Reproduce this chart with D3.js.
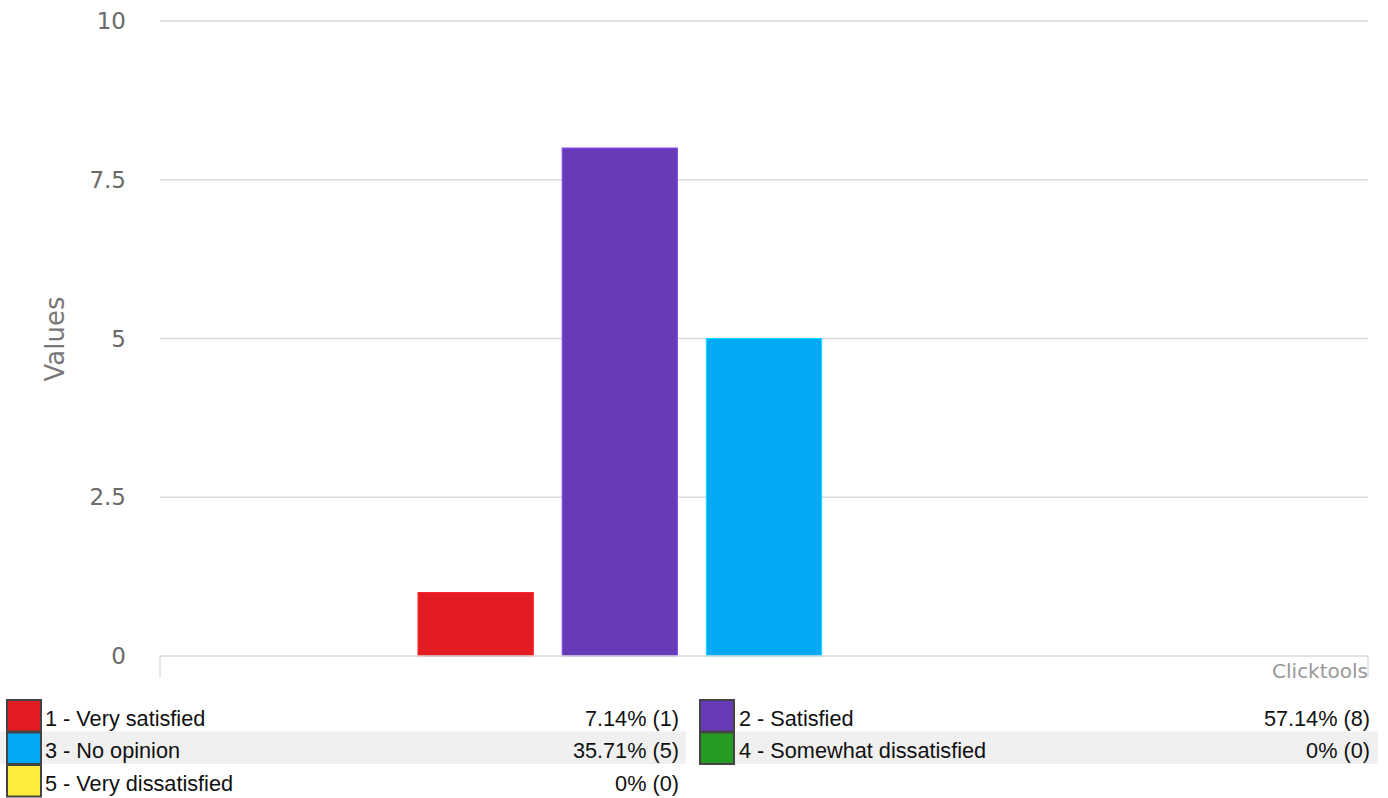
<!DOCTYPE html>
<html>
<head>
<meta charset="utf-8">
<script src="https://cdn.jsdelivr.net/npm/d3@7"></script>
<style>
  body { margin: 0; background: #ffffff; }
  svg { display: block; }
</style>
</head>
<body>
<script>
// chart data
var categories = ["1 - Very satisfied", "2 - Satisfied", "3 - No opinion", "4 - Somewhat dissatisfied", "5 - Very dissatisfied"];
var counts = [1, 8, 5, 0, 0];
var percents = ["7.14%", "57.14%", "35.71%", "0%", "0%"];
var colors = ["#e31c23", "#673ab7", "#03a9f4", "#259b24", "#ffeb3b"];
var yTicks = [0, 2.5, 5, 7.5, 10];

var w = 1388;
var h = 798;

var plot = { left: 160, right: 1368, top: 21, bottom: 656 };

window.onload = function() {

  var svg = d3.select("body")
              .append("svg")
              .attr("width", w)
              .attr("height", h);

  var yScale = d3.scaleLinear()
                 .domain([0, 10])
                 .range([plot.bottom, plot.top]);

  // one group holding the five series
  var xGroup = d3.scaleBand()
                 .domain(["all"])
                 .range([plot.left, plot.right]);

  var xSeries = d3.scaleBand()
                  .domain(categories)
                  .range([xGroup("all") + 258, xGroup("all") + xGroup.bandwidth() - 258])
                  .paddingInner(0.2);

  // gridlines
  svg.append("g")
     .selectAll("line")
     .data(yTicks.slice(1))
     .enter()
     .append("line")
     .attr("x1", plot.left)
     .attr("x2", plot.right)
     .attr("y1", function(d) { return yScale(d); })
     .attr("y2", function(d) { return yScale(d); })
     .attr("stroke", "#d9d9d9")
     .attr("stroke-width", 1.5);

  // y tick labels
  svg.append("g")
     .selectAll("text")
     .data(yTicks)
     .enter()
     .append("text")
     .attr("x", 126)
     .attr("y", function(d) { return yScale(d); })
     .attr("dy", "0.35em")
     .attr("text-anchor", "end")
     .attr("font-family", "DejaVu Sans, sans-serif")
     .attr("font-size", "23px")
     .attr("fill", "#6a6a6a")
     .text(function(d) { return d; });

  // y axis title
  svg.append("text")
     .attr("transform", "translate(64,339) rotate(-90)")
     .attr("text-anchor", "middle")
     .attr("font-family", "DejaVu Sans, sans-serif")
     .attr("font-size", "26px")
     .attr("fill", "#777")
     .text("Values");

  // bars
  svg.append("g")
     .selectAll("rect")
     .data(counts)
     .enter()
     .append("rect")
     .attr("x", function(d, i) { return xSeries(categories[i]); })
     .attr("y", function(d) { return yScale(d); })
     .attr("width", xSeries.bandwidth())
     .attr("height", function(d) { return yScale(0) - yScale(d); })
     .attr("fill", function(d, i) { return colors[i]; })
     .attr("stroke", function(d, i) { return d3.color(colors[i]).brighter(0.8); })
     .attr("stroke-width", function(d) { return d > 0 ? 1 : 0; });

  // x axis line
  svg.append("line")
     .attr("x1", plot.left)
     .attr("x2", plot.right)
     .attr("y1", plot.bottom)
     .attr("y2", plot.bottom)
     .attr("stroke", "#d9d9d9")
     .attr("stroke-width", 1.5);

  svg.selectAll(".xtick")
     .data([plot.left, plot.right])
     .enter()
     .append("line")
     .attr("class", "xtick")
     .attr("x1", function(d) { return d; })
     .attr("x2", function(d) { return d; })
     .attr("y1", plot.bottom)
     .attr("y2", plot.bottom + 22)
     .attr("stroke", "#c0d0e0")
     .attr("stroke-width", 1);

  svg.append("text")
     .attr("x", plot.right)
     .attr("y", 678)
     .attr("text-anchor", "end")
     .attr("font-family", "DejaVu Sans, sans-serif")
     .attr("font-size", "20px")
     .attr("fill", "#999")
     .text("Clicktools");

  // legend
  var legTop = 699;
  var rowH = 32.5;
  var colX = [0, 699];
  var colW = [679, 671];
  var bgSpans = [[0, 686], [699, 1378]];

  var rows = d3.range(Math.ceil(categories.length / 2));
  rows.filter(function(r) { return r % 2 == 1; }).forEach(function(r) {
    svg.append("g")
       .selectAll("rect")
       .data(bgSpans)
       .enter()
       .append("rect")
       .attr("x", function(s) { return s[0]; })
       .attr("y", legTop + r * rowH)
       .attr("width", function(s) { return s[1] - s[0]; })
       .attr("height", rowH)
       .attr("fill", "#f0f0f0");
  });

  var item = svg.append("g")
                .selectAll("g")
                .data(categories)
                .enter()
                .append("g")
                .attr("transform", function(d, i) {
                    return "translate(" + colX[i % 2] + "," + (legTop + Math.floor(i / 2) * rowH) + ")";
                });

  item.append("rect")
      .attr("x", function(d, i) { return i % 2 == 0 ? 7 : 1; })
      .attr("y", 1)
      .attr("width", 34)
      .attr("height", rowH - 1)
      .attr("fill", function(d, i) { return colors[i]; })
      .attr("stroke", "#444")
      .attr("stroke-width", 2);

  item.append("text")
      .attr("x", function(d, i) { return i % 2 == 0 ? 45 : 40; })
      .attr("y", rowH / 2 + 3)
      .attr("dy", "0.35em")
      .attr("font-family", "Liberation Sans, Arial, sans-serif")
      .attr("font-size", "21.7px")
      .attr("fill", "#111")
      .text(function(d) { return d; });

  item.append("text")
      .attr("x", function(d, i) { return colW[i % 2]; })
      .attr("y", rowH / 2 + 3)
      .attr("dy", "0.35em")
      .attr("text-anchor", "end")
      .attr("font-family", "Liberation Sans, Arial, sans-serif")
      .attr("font-size", "21.7px")
      .attr("fill", "#111")
      .text(function(d, i) { return percents[i] + " (" + counts[i] + ")"; });
};
</script>
</body>
</html>
